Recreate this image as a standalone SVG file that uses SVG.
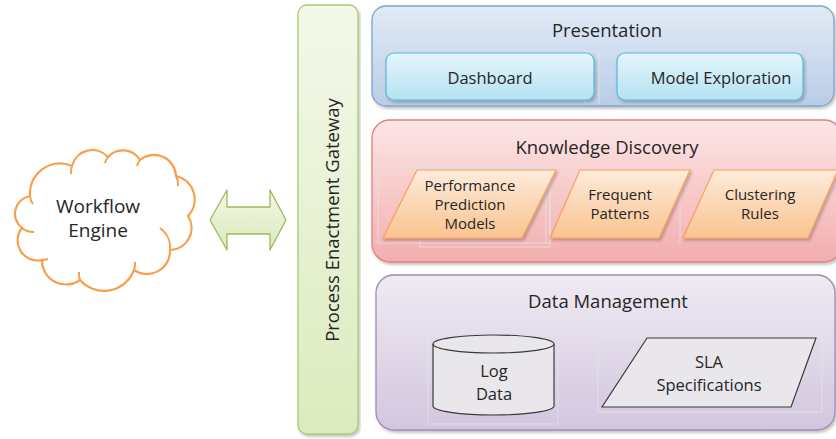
<svg xmlns="http://www.w3.org/2000/svg" width="836" height="439" viewBox="0 0 836 439">
  <defs>
    <linearGradient id="gGate" x1="0" y1="0" x2="0" y2="1">
      <stop offset="0" stop-color="#f4f8ea"/>
      <stop offset="1" stop-color="#dcebbd"/>
    </linearGradient>
    <linearGradient id="gPres" x1="0" y1="0" x2="0" y2="1">
      <stop offset="0" stop-color="#e2ebf6"/>
      <stop offset="1" stop-color="#b9cde7"/>
    </linearGradient>
    <linearGradient id="gPresItem" x1="0" y1="0" x2="0" y2="1">
      <stop offset="0" stop-color="#e4f5fb"/>
      <stop offset="1" stop-color="#b5e2f2"/>
    </linearGradient>
    <linearGradient id="gKd" x1="0" y1="0" x2="0" y2="1">
      <stop offset="0" stop-color="#fce6e6"/>
      <stop offset="1" stop-color="#f3aeae"/>
    </linearGradient>
    <linearGradient id="gKdItem" x1="0" y1="0" x2="0" y2="1">
      <stop offset="0" stop-color="#fdebdc"/>
      <stop offset="1" stop-color="#fac48f"/>
    </linearGradient>
    <linearGradient id="gDm" x1="0" y1="0" x2="0" y2="1">
      <stop offset="0" stop-color="#efeaf3"/>
      <stop offset="1" stop-color="#d2c6de"/>
    </linearGradient>
    <linearGradient id="gArrow" x1="0" y1="0" x2="0" y2="1">
      <stop offset="0" stop-color="#f2f7e6"/>
      <stop offset="1" stop-color="#dbeabb"/>
    </linearGradient>
    <filter id="shadow" x="-5%" y="-5%" width="110%" height="115%">
      <feDropShadow dx="1.5" dy="2" stdDeviation="1.5" flood-color="#000" flood-opacity="0.25"/>
    </filter>
  </defs>
  <style>
    text { font-family: "Open Sans", "Noto Sans", sans-serif; fill: #262626; text-anchor: middle; }
    .title { font-size: 18.5px; }
    .item { font-size: 16.5px; }
    .kd { font-size: 15px; }
    .ghost { fill: none; stroke: #e4e4e4; stroke-width: 0.8; }
    .store { fill: #e9e7ec; stroke: #3a3a3a; stroke-width: 1.2; }
  </style>

  <rect width="836" height="439" fill="#ffffff"/>

  <!-- Workflow engine cloud -->
  <g id="workflow-engine">
    <path d="M30,196 A30,30 0 0 1 72,166 A21,21 0 0 1 108,157 A20,20 0 0 1 140,160 A22,22 0 0 1 176,176 A24,24 0 0 1 188,216 A22,22 0 0 1 170,250 A23,23 0 0 1 134,270 A32,32 0 0 1 80,280 A24,24 0 0 1 42,260 A20,20 0 0 1 22,228 A18,18 0 0 1 30,196 Z"
          fill="#ffffff" stroke="#f7a04b" stroke-width="2.2"/>
    <path d="M30,196 A14,14 0 0 0 33,204 M72,166 A20,20 0 0 0 71,174 M108,157 A16,16 0 0 0 105,163 M140,160 A16,16 0 0 0 137,166 M176,176 A20,20 0 0 1 178,186 M160,228 A24,24 0 0 1 170,250 M134,270 A20,20 0 0 0 135,262 M80,280 A20,20 0 0 1 79,272 M42,260 A20,20 0 0 0 48,259 M22,228 A18,18 0 0 0 34,232"
          fill="none" stroke="#f7a04b" stroke-width="2"/>
    <text class="title" x="98" y="213" style="font-size:19px">Workflow</text>
    <text class="title" x="98" y="237" style="font-size:19px">Engine</text>
  </g>

  <!-- Link between engine and gateway -->
  <g id="connectors">
    <path d="M210,220 L227,190 L227,207 L270,207 L270,190 L286,220 L270,250 L270,234 L227,234 L227,250 Z"
          fill="url(#gArrow)" stroke="#9bbb59" stroke-width="1.3" stroke-linejoin="round"/>
  </g>

  <!-- Process Enactment Gateway -->
  <g id="gateway">
    <rect x="298" y="5" width="60" height="429" rx="9" fill="url(#gGate)" stroke="#aac974" stroke-width="1.3" filter="url(#shadow)"/>
    <text class="title" transform="translate(339,220) rotate(-90)">Process Enactment Gateway</text>
  </g>

  <!-- Presentation layer -->
  <g id="presentation">
    <rect x="372" y="6" width="462" height="100" rx="14" fill="url(#gPres)" stroke="#7fa3cf" stroke-width="1.3" filter="url(#shadow)"/>
    <line class="ghost" x1="585" y1="50" x2="585" y2="104"/>
    <line class="ghost" x1="599" y1="50" x2="599" y2="104"/>
    <text class="title" x="607" y="37">Presentation</text>
  </g>
  <g id="dashboard">
    <rect x="386" y="53" width="208" height="47" rx="8" fill="url(#gPresItem)" stroke="#5fb6d2" stroke-width="1.2" filter="url(#shadow)"/>
    <text class="item" x="490" y="84">Dashboard</text>
  </g>
  <g id="model-exploration">
    <rect x="617" y="53" width="186" height="47" rx="8" fill="url(#gPresItem)" stroke="#5fb6d2" stroke-width="1.2" filter="url(#shadow)"/>
    <text class="item" x="721" y="84">Model Exploration</text>
  </g>

  <!-- Knowledge Discovery layer -->
  <g id="knowledge-discovery">
    <rect x="372" y="120" width="470" height="142" rx="18" fill="url(#gKd)" stroke="#e08080" stroke-width="1.3" filter="url(#shadow)"/>
    <rect class="ghost" x="378" y="167" width="172" height="76"/>
    <rect class="ghost" x="420" y="167" width="130" height="80"/>
    <line class="ghost" x1="546" y1="167" x2="546" y2="243"/>
    <line class="ghost" x1="680" y1="167" x2="680" y2="243"/>
    <text class="title" x="607" y="154">Knowledge Discovery</text>
  </g>
  <g id="performance-prediction-models">
    <polygon points="417,170 556,170 522,238 383,238" fill="url(#gKdItem)" stroke="#f5a25a" stroke-width="1.2" filter="url(#shadow)"/>
    <text class="kd" x="470" y="191">Performance</text>
    <text class="kd" x="470" y="210">Prediction</text>
    <text class="kd" x="470" y="229">Models</text>
  </g>
  <g id="frequent-patterns">
    <polygon points="580,170 690,170 659,238 550,238" fill="url(#gKdItem)" stroke="#f5a25a" stroke-width="1.2" filter="url(#shadow)"/>
    <text class="kd" x="620" y="200">Frequent</text>
    <text class="kd" x="620" y="219">Patterns</text>
  </g>
  <g id="clustering-rules">
    <polygon points="714,170 838,170 808,238 683,238" fill="url(#gKdItem)" stroke="#f5a25a" stroke-width="1.2" filter="url(#shadow)"/>
    <text class="kd" x="760" y="200">Clustering</text>
    <text class="kd" x="760" y="219">Rules</text>
  </g>

  <!-- Data Management layer -->
  <g id="data-management">
    <rect x="376" y="275" width="459" height="155" rx="18" fill="url(#gDm)" stroke="#9d8bb9" stroke-width="1.3" filter="url(#shadow)"/>
    <rect class="ghost" x="428" y="332" width="130" height="92"/>
    <rect class="ghost" x="598" y="336" width="224" height="76"/>
    <text class="title" x="608" y="308">Data Management</text>
  </g>
  <g id="log-data">
    <path class="store" d="M433,344 A60.5,9 0 0 1 554,344 L554,406 A60.5,9 0 0 1 433,406 Z"/>
    <path d="M433,344 A60.5,9 0 0 0 554,344" fill="none" stroke="#3a3a3a" stroke-width="1.2"/>
    <text class="item" x="494" y="377">Log</text>
    <text class="item" x="494" y="400">Data</text>
  </g>
  <g id="sla-specifications">
    <polygon class="store" points="647,338 816,338 791,407 602,407"/>
    <text class="item" x="709" y="368">SLA</text>
    <text class="item" x="709" y="391">Specifications</text>
  </g>
</svg>
